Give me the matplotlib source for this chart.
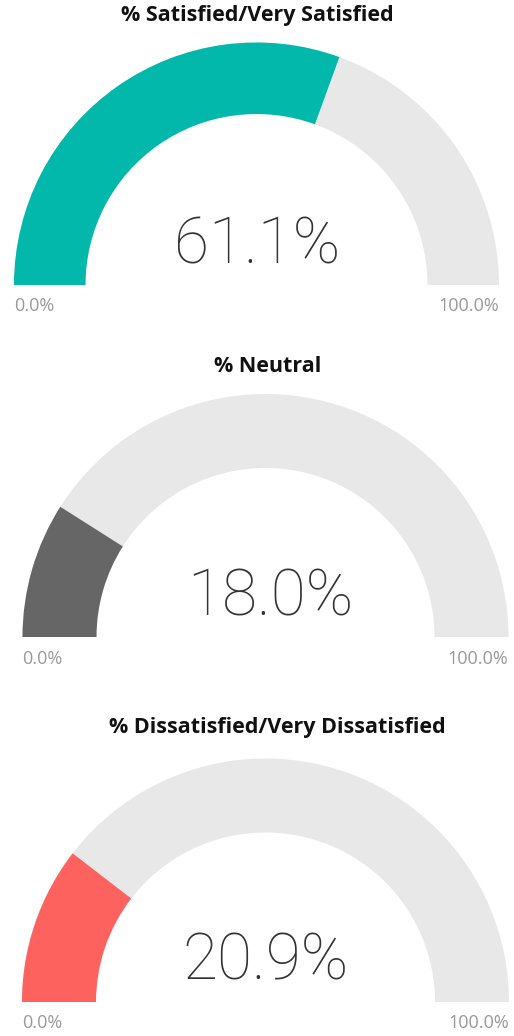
import matplotlib
matplotlib.use("Agg")
import matplotlib.pyplot as plt
from matplotlib.patches import Wedge

titles = ["% Satisfied/Very Satisfied", "% Neutral", "% Dissatisfied/Very Dissatisfied"]
values = [61.1, 18.0, 20.9]
min_labels = ["0.0%", "0.0%", "0.0%"]
max_labels = ["100.0%", "100.0%", "100.0%"]
gauge_min = 0.0
gauge_max = 100.0
fill_colors = ["#01B8AA", "#666666", "#FD625E"]
track_color = "#E8E8E8"

W, H = 514, 1036
fig = plt.figure(figsize=(W / 100, H / 100), dpi=100)
ax = fig.add_axes([0, 0, 1, 1])
ax.set_xlim(0, W)
ax.set_ylim(0, H)
ax.set_aspect("equal")
ax.axis("off")

# layout (pixel positions measured from top)
centers = [(256.5, 285), (265.5, 637), (265.5, 1002)]
radii = [242.5, 243, 243.5]
widths = [71.5, 74, 74]
title_pos = [(257, 16), (268, 367), (277, 728)]
value_pos = [(257, 239), (270, 591), (266, 955)]
label_y = [306, 659, 1023]

for i in range(3):
    cx, cy = centers[i]
    cy = H - cy
    R = radii[i]
    w = widths[i]
    frac = (values[i] - gauge_min) / (gauge_max - gauge_min)
    end_angle = 180 - 180 * frac
    ax.add_patch(Wedge((cx, cy), R, 0, 180, width=w, facecolor=track_color, edgecolor="none"))
    ax.add_patch(Wedge((cx, cy), R, end_angle, 180, width=w, facecolor=fill_colors[i], edgecolor="none"))
    tx, ty = title_pos[i]
    ax.text(tx, H - ty, titles[i], ha="center", va="center", fontsize=15.5,
            fontweight="bold", family="Open Sans", color="#111111")
    vx, vy = value_pos[i]
    ax.text(vx, H - vy, f"{values[i]:.1f}%", ha="center", va="center_baseline", fontsize=46,
            fontweight="light", family="Roboto", color="#333333")
    ax.text(cx - R, H - label_y[i], min_labels[i], ha="left", va="center", fontsize=13,
            family="Open Sans", color="#999999")
    ax.text(cx + R, H - label_y[i], max_labels[i], ha="right", va="center", fontsize=13,
            family="Open Sans", color="#999999")

fig.savefig("out.png", dpi=100, facecolor="white")
